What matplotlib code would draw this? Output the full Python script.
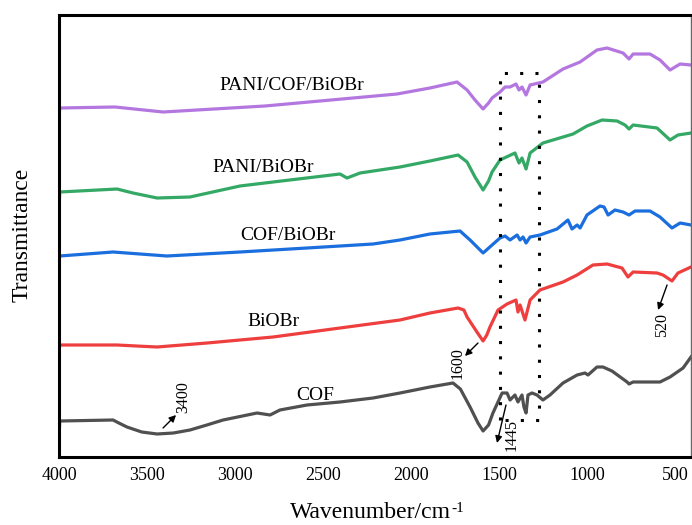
import matplotlib
matplotlib.use("Agg")
import matplotlib.pyplot as plt

plt.rcParams['font.family'] = ['Liberation Serif', 'DejaVu Serif']

# FTIR spectra (wavenumber, offset transmittance in arbitrary units)
cof_x = [4000, 3996, 3693, 3660, 3614, 3530, 3443, 3350, 3256, 3160, 3068, 2875, 2801, 2745,
         2591, 2404, 2216, 2063, 1893, 1762, 1720, 1665, 1620, 1591, 1560, 1535, 1483, 1455,
         1438, 1410, 1393, 1370, 1359, 1347, 1336, 1313, 1285, 1251, 1211, 1137, 1057, 1012,
         995, 944, 910, 859, 773, 762, 739, 586, 529, 455, 410]
cof_y = [17, 36, 37, 34, 30, 25, 23, 24, 27, 32, 37, 44, 42, 47,
         52, 55, 59, 64, 70, 74, 68, 50, 34, 26, 32, 44, 64, 64,
         57, 62, 55, 62, 50, 44, 62, 64, 62, 57, 62, 74, 82, 84,
         82, 90, 90, 86, 75, 73, 75, 75, 80, 89, 100]

biobr_x = [4000, 3996, 3670, 3560, 3443, 3159, 2784, 2404, 2063, 1893, 1733, 1700, 1682, 1626,
           1591, 1570, 1552, 1506, 1455, 1404, 1393, 1381, 1353, 1324, 1268, 1137, 1057, 967,
           887, 802, 768, 739, 603, 569, 518, 484, 410]
biobr_y = [105, 112, 112, 111, 110, 114, 120, 129, 137, 144, 149, 147, 140, 125,
           116, 122, 130, 147, 153, 157, 145, 152, 137, 157, 167, 175, 182, 192,
           193, 189, 180, 185, 184, 182, 176, 184, 190]

cofb_x = [4000, 3996, 3693, 3387, 2972, 2591, 2216, 2063, 1893, 1722, 1665, 1591, 1495, 1466,
          1438, 1398, 1381, 1364, 1347, 1324, 1268, 1171, 1109, 1086, 1057, 1040, 1001, 927,
          904, 881, 842, 796, 762, 728, 643, 586, 518, 472, 410]
cofb_y = [197, 201, 205, 201, 205, 209, 213, 217, 223, 226, 217, 204, 219, 221,
          217, 222, 217, 220, 214, 220, 222, 228, 237, 228, 232, 229, 242, 251,
          250, 242, 247, 245, 242, 246, 246, 240, 229, 234, 232]

pani_x = [4000, 3996, 3670, 3580, 3443, 3256, 2972, 2784, 2404, 2364, 2290, 2063, 1893, 1733,
          1682, 1637, 1591, 1560, 1540, 1495, 1410, 1387, 1370, 1347, 1324, 1251, 1137, 1080,
          1001, 915, 830, 785, 762, 739, 603, 529, 484, 410]
pani_y = [245, 265, 268, 264, 259, 260, 271, 275, 283, 279, 284, 290, 296, 302,
          295, 280, 267, 276, 285, 297, 304, 294, 299, 288, 304, 314, 320, 323,
          331, 337, 336, 332, 328, 332, 329, 317, 322, 324]

pcb_x = [4000, 3996, 3682, 3409, 2830, 2080, 1893, 1739, 1682, 1637, 1591, 1560, 1540, 1495,
         1466, 1438, 1404, 1387, 1370, 1347, 1324, 1251, 1137, 1040, 944, 887, 796, 762,
         739, 643, 586, 529, 472, 410]
pcb_y = [337, 349, 350, 345, 351, 363, 369, 375, 367, 357, 348, 354, 359, 365,
         370, 370, 373, 367, 370, 362, 372, 375, 388, 395, 407, 409, 404, 398,
         403, 403, 397, 387, 393, 392]

fig = plt.figure(figsize=(6.92, 5.25), dpi=100)
ax = fig.add_axes([59 / 692, 68 / 525, 632 / 692, 442 / 525])

lw = 2.3
ax.plot(cof_x, cof_y, color='#505050', lw=lw, solid_joinstyle='round')
ax.plot(biobr_x, biobr_y, color='#ee3e3e', lw=lw, solid_joinstyle='round')
ax.plot(cofb_x, cofb_y, color='#1a6ede', lw=lw, solid_joinstyle='round')
ax.plot(pani_x, pani_y, color='#34a865', lw=lw, solid_joinstyle='round')
ax.plot(pcb_x, pcb_y, color='#b477e0', lw=lw, solid_joinstyle='round')

# dotted box around the 1500-1270 region
ax.plot([1495, 1495, 1273, 1273, 1495], [37, 384, 384, 37, 37], color='black',
        lw=2.2, linestyle=(0, (1, 4)))

fs = 14
ax.text(2676, 372, 'PANI/COF/BiOBr', fontsize=fs, ha='center', va='center')
ax.text(2841, 290, 'PANI/BiOBr', fontsize=fs, ha='center', va='center')
ax.text(2699, 222, 'COF/BiOBr', fontsize=fs, ha='center', va='center')
ax.text(2784, 135, 'BiOBr', fontsize=fs, ha='center', va='center')
ax.text(2546, 62, 'COF', fontsize=fs, ha='center', va='center')

arrow = dict(arrowstyle='-|>', color='black', lw=1, mutation_scale=10, shrinkA=0, shrinkB=0)
ax.text(3296, 60, '3400', fontsize=11.5, rotation=90, ha='center', va='center')
ax.annotate('', xy=(3335, 42), xytext=(3409, 29), arrowprops=arrow)
ax.text(1733, 94, '1600', fontsize=11.5, rotation=90, ha='center', va='center')
ax.annotate('', xy=(1694, 101), xytext=(1620, 114), arrowprops=arrow)
ax.text(575, 132, '520', fontsize=11.5, rotation=90, ha='center', va='center')
ax.annotate('', xy=(597, 147), xytext=(546, 172), arrowprops=arrow)
ax.text(1427, 22, '1445', fontsize=11.5, rotation=90, ha='center', va='center')
ax.annotate('', xy=(1512, 14), xytext=(1461, 52), arrowprops=arrow)

ax.set_xlim(4000, 410)
ax.set_ylim(0, 442)
ax.set_xticks([4000, 3500, 3000, 2500, 2000, 1500, 1000, 500])
ax.set_yticks([])
ax.tick_params(axis='x', length=0, pad=7, labelsize=13)
for s in ['left', 'bottom', 'top']:
    ax.spines[s].set_linewidth(2.2)
ax.spines['right'].set_linewidth(1)
ax.spines['right'].set_color('#666666')

xl = fig.text(370 / 692, 1 - 513 / 525, 'Wavenumber/cm', fontsize=17,
              ha='center', va='center')
fig.canvas.draw()
bb = xl.get_window_extent()
fig.text(bb.x1 / 692 + 0.001, bb.y1 / 525 - 0.012, '-1', fontsize=11, ha='left', va='center')
fig.text(22 / 692, 1 - 235 / 525, 'Transmittance', fontsize=17, rotation=90,
         ha='center', va='center')

fig.savefig('out.png', dpi=100)
